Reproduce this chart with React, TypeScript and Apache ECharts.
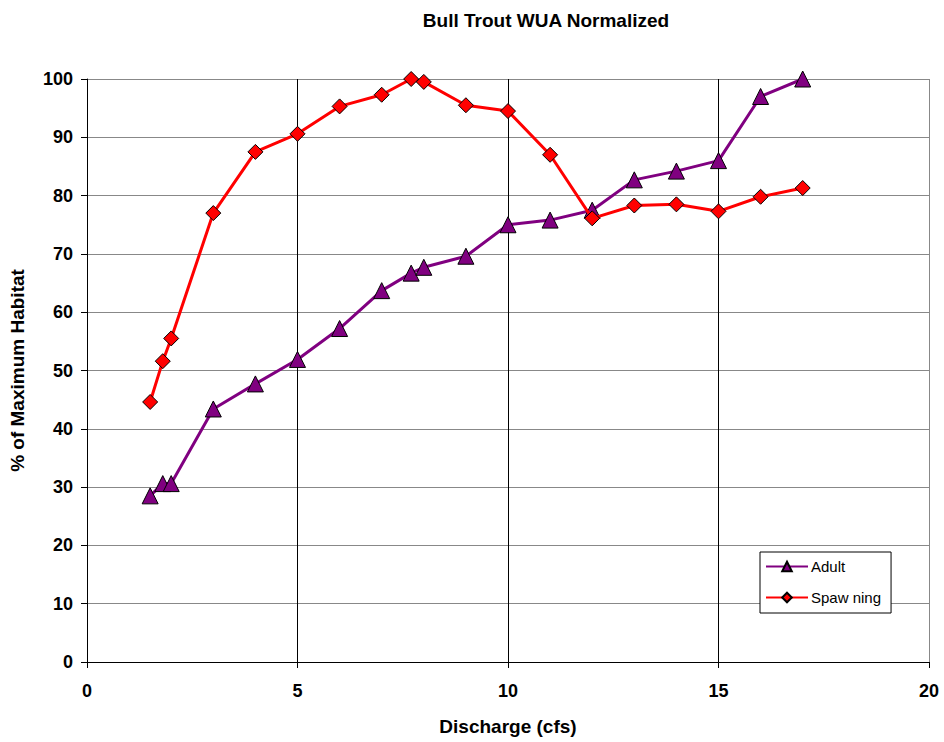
import React, { useEffect, useRef } from "react";
import * as echarts from "echarts";

const discharge = [1.5, 1.8, 2, 3, 4, 5, 6, 7, 7.7, 8, 9, 10, 11, 12, 13, 14, 15, 16, 17];
const adult = [28.5, 30.6, 30.6, 43.4, 47.7, 51.9, 57.2, 63.7, 66.7, 67.7, 69.6, 75.0, 75.8, 77.5, 82.7, 84.2, 86.0, 97.0, 100];
const spawning = [44.6, 51.6, 55.5, 77.0, 87.5, 90.6, 95.3, 97.3, 100, 99.5, 95.5, 94.5, 87.0, 76.1, 78.3, 78.5, 77.3, 79.8, 81.3];

const FONT = "Arial, 'Liberation Sans', sans-serif";

export default function App() {
  const ref = useRef<HTMLDivElement>(null);
  useEffect(() => {
    if (!ref.current) return;
    const chart = echarts.init(ref.current, undefined, { renderer: "svg" });
    chart.setOption({
      animation: false,
      backgroundColor: "#ffffff",
      textStyle: { fontFamily: FONT },
      title: {
        text: "Bull Trout WUA Normalized",
        left: 541,
        top: 6,
        textAlign: "center",
        textStyle: { fontFamily: FONT, fontWeight: "bold", fontSize: 19, color: "#000" },
      },
      grid: { left: 87, right: 15, top: 79, bottom: 80 },
      legend: {
        left: 760,
        top: 552,
        orient: "vertical",
        backgroundColor: "#fff",
        borderColor: "#000",
        borderWidth: 1,
        borderRadius: 0,
        padding: [7, 10, 8, 5],
        itemGap: 16,
        itemWidth: 42,
        itemHeight: 12,
        textStyle: { fontFamily: FONT, fontSize: 15, color: "#000", padding: [0, 0, 0, -2] },
        data: ["Adult", "Spaw ning"],
      },
      xAxis: {
        type: "value",
        min: 0,
        max: 20,
        interval: 5,
        name: "Discharge (cfs)",
        nameLocation: "middle",
        nameGap: 55,
        nameTextStyle: { fontFamily: FONT, fontWeight: "bold", fontSize: 19, color: "#000" },
        axisLine: { show: true, onZero: false, lineStyle: { color: "#000", width: 1 } },
        axisTick: { show: true, inside: false, length: 6, lineStyle: { color: "#000" } },
        axisLabel: { fontFamily: FONT, fontWeight: "bold", fontSize: 18, color: "#000", margin: 20 },
        splitLine: { show: true, lineStyle: { color: ["#000", "#000", "#000", "#000", "#888"], width: 1 } },
      },
      yAxis: {
        type: "value",
        min: 0,
        max: 100,
        interval: 10,
        name: "% of Maximum Habitat",
        nameLocation: "middle",
        nameGap: 60,
        nameTextStyle: { fontFamily: FONT, fontWeight: "bold", fontSize: 19, color: "#000" },
        axisLine: { show: true, onZero: false, lineStyle: { color: "#000", width: 1 } },
        axisTick: { show: true, inside: false, length: 6, lineStyle: { color: "#000" } },
        axisLabel: { fontFamily: FONT, fontWeight: "bold", fontSize: 18, color: "#000", margin: 14 },
        splitLine: { show: true, lineStyle: { color: "#888", width: 1 } },
      },
      series: [
        {
          name: "Adult",
          type: "line",
          data: discharge.map((x, i) => [x, adult[i]]),
          symbol: "triangle",
          symbolSize: 16,
          lineStyle: { color: "#800080", width: 3 },
          itemStyle: { color: "#800080", borderColor: "#000", borderWidth: 1 },
          z: 3,
        },
        {
          name: "Spaw ning",
          type: "line",
          data: discharge.map((x, i) => [x, spawning[i]]),
          symbol: "diamond",
          symbolSize: 15,
          lineStyle: { color: "#ff0000", width: 3 },
          itemStyle: { color: "#ff0000", borderColor: "#000", borderWidth: 1 },
          z: 4,
        },
      ],
    });
    return () => chart.dispose();
  }, []);
  return <div ref={ref} style={{ width: 944, height: 742, position: "absolute", left: 0, top: 0 }} />;
}
